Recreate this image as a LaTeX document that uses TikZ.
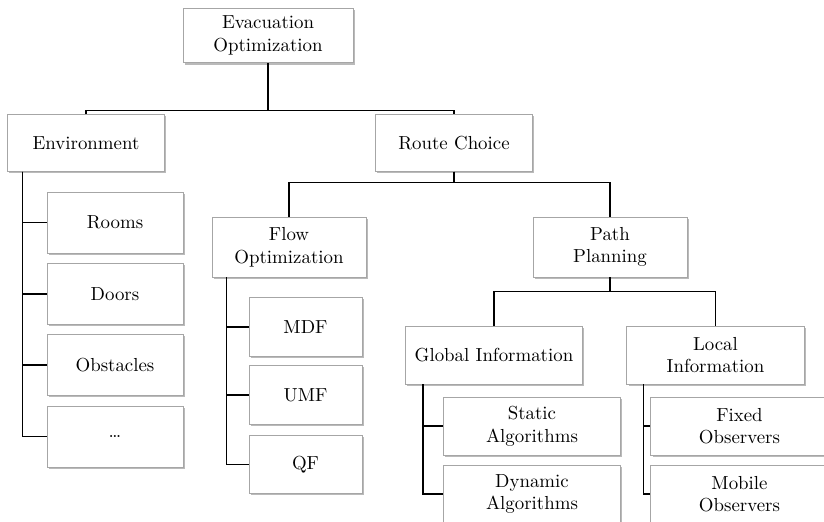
\documentclass[tikz,border=0pt]{standalone}
\usetikzlibrary{shadows, calc}
\tikzstyle{box} = [rectangle, draw=black!35, fill=white, text centered, align=center, inner sep=2pt, drop shadow={shadow xshift=0.9pt, shadow yshift=-0.9pt, fill=black!60, opacity=0.45}]
\tikzstyle{top} = [box, minimum width=90pt, minimum height=29pt]
\tikzstyle{branch} = [box, minimum width=83pt, minimum height=30pt]
\tikzstyle{sub} = [box, minimum width=81.6pt, minimum height=31.8pt]
\tikzstyle{info} = [box, minimum width=94pt, minimum height=30.7pt]
\tikzstyle{leaf} = [box, minimum width=72pt, minimum height=32.3pt]
\tikzstyle{flowleaf} = [box, minimum width=60pt, minimum height=31pt]
\tikzstyle{line} = [line width=0.7pt, black]

\begin{document}
\begin{tikzpicture}[x=0.53pt, y=-0.53pt]
    \useasboundingbox (0,0) rectangle (824,521);
    \clip (0,0) rectangle (824,521);
    % Nodes
    \node (evac) [top] at (268,35.5) {Evacuation\\Optimization};
    \node (env) [branch] at (86,143) {Environment};
    \node (route) [branch] at (454,143) {Route Choice};
    \node (rooms) [leaf] at (115,222.5) {Rooms};
    \node (doors) [leaf] at (115,294) {Doors};
    \node (obst) [leaf] at (115,365) {Obstacles};
    \node (more) [leaf] at (115,436.5) {\dots};
    \node (flow) [sub] at (289,247) {Flow\\Optimization};
    \node (mdf) [flowleaf] at (305.5,327) {MDF};
    \node (umf) [flowleaf] at (305.5,395) {UMF};
    \node (qf) [flowleaf] at (305.5,464.5) {QF};
    \node (path) [sub] at (610,247) {Path\\Planning};
    \node (global) [info] at (494,355) {Global Information};
    \node (local) [info] at (715.5,355) {Local\\Information};
    \node (static) [info] at (532,426) {Static\\Algorithms};
    \node (dynamic) [info] at (532,494) {Dynamic\\Algorithms};
    \node (fixed) [info] at (739.5,426) {Fixed\\Observers};
    \node (mobile) [info] at (739.5,494) {Mobile\\Observers};

    % Connectors
    \draw [line] (evac.south) -- ++(0,47) -| (env.north);
    \draw [line] (evac.south) -- ++(0,47) -| (route.north);
    \draw [line] (route.south) -- ++(0,11) -| (flow.north);
    \draw [line] (route.south) -- ++(0,11) -| (path.north);
    \draw [line] (path.south) -- ++(0,14) -| (global.north);
    \draw [line] (path.south) -- ++(0,14) -| (local.north);
    \foreach \n in {rooms, doors, obst, more}
        \draw [line] ($(env.south west)+(15,0)$) |- (\n.west);
    \foreach \n in {mdf, umf, qf}
        \draw [line] ($(flow.south west)+(15,0)$) |- (\n.west);
    \foreach \n in {static, dynamic}
        \draw [line] ($(global.south west)+(18,0)$) |- (\n.west);
    \foreach \n in {fixed, mobile}
        \draw [line] ($(local.south west)+(17,0)$) |- (\n.west);
\end{tikzpicture}
\end{document}
